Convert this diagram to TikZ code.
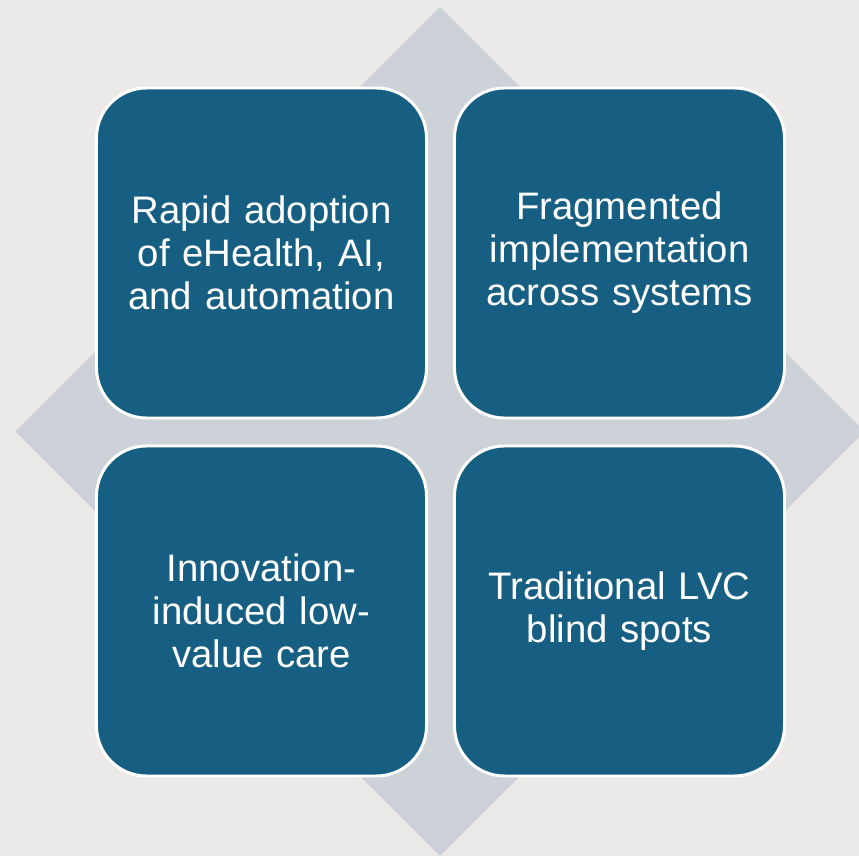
\documentclass[tikz,border=0pt]{standalone}
\usepackage{fontspec}
\setmainfont{Liberation Sans}
\usetikzlibrary{positioning}
\definecolor{bgcol}{HTML}{EBEAE8}
\definecolor{diamcol}{HTML}{CDD1D8}
\definecolor{boxcol}{HTML}{175F82}
\begin{document}
\begin{tikzpicture}[
 quad/.style={draw=white,line width=1.7pt,fill=boxcol,rounded corners=1cm,
  minimum size=6.6cm,text width=6cm,align=center,text=white,
  font=\fontsize{21.8}{24.5}\selectfont},
 node distance=0.5cm]
\useasboundingbox[fill=bgcol](-8.8,-8.49)rectangle(8.38,8.63);
\fill[diamcol](0,8.49)--(8.49,0)--(0,-8.49)--(-8.49,0)--cycle;
\node[quad](tl)at(-3.57,3.57){Rapid adoption\\of eHealth, AI,\\and automation};
\node[quad,right=of tl](tr){Fragmented\\implementation\\across systems};
\node[quad,below=of tl](bl){Innovation-\\induced low-\\value care};
\node[quad,below=of tr](br){Traditional LVC\\blind spots};
\end{tikzpicture}
\end{document}
